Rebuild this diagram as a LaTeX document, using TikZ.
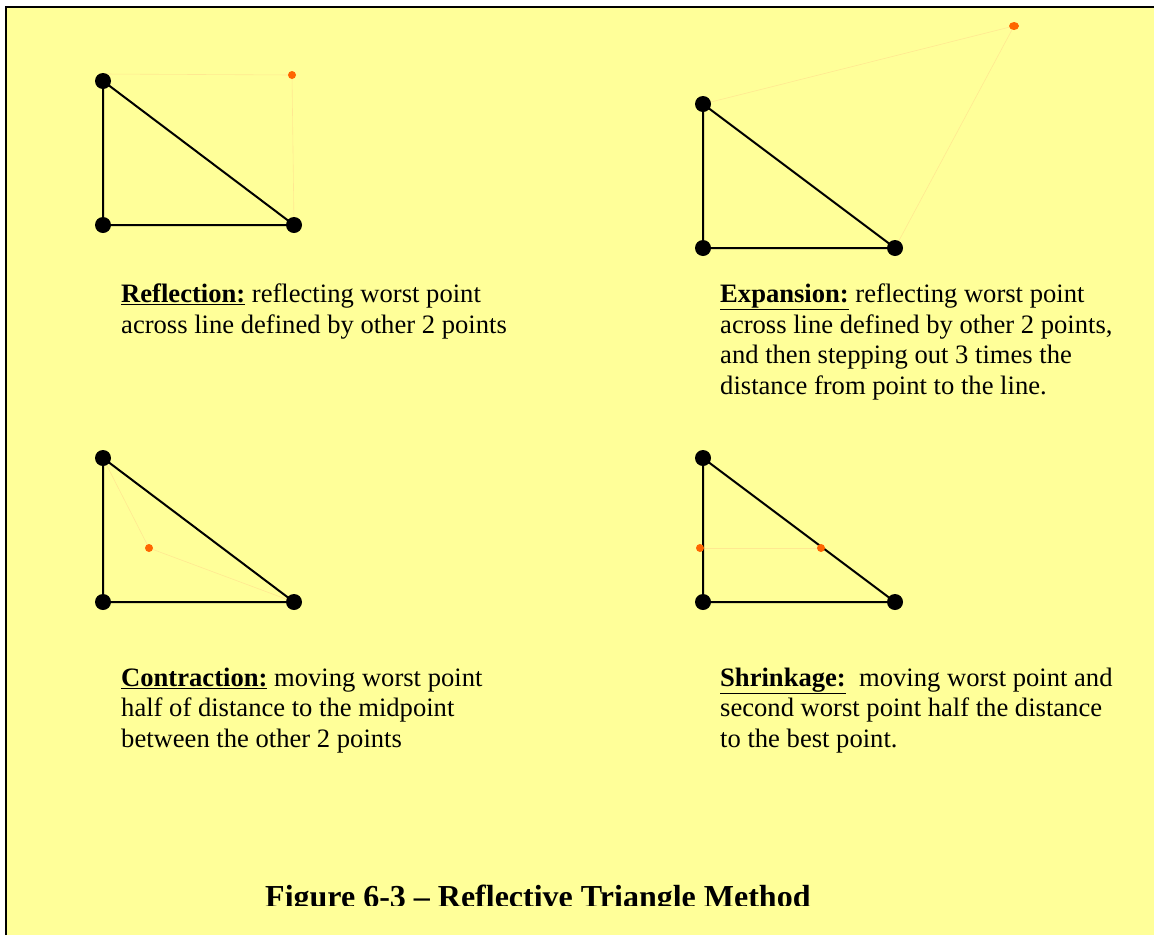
\documentclass[tikz,border=0pt]{standalone}
\usepackage{fontspec}
\usetikzlibrary{shapes.geometric}
\setmainfont{Liberation Serif}
\definecolor{bgyellow}{RGB}{255,255,153}
\definecolor{dotorange}{RGB}{255,102,0}
\definecolor{faint}{RGB}{255,232,145}
\newcommand{\ulbold}[1]{\underline{\textbf{#1}}}
\begin{document}
\begin{tikzpicture}[x=1pt,y=-1pt,
  vtx/.style={circle,fill=black,inner sep=0pt,minimum size=16pt},
  odot/.style={circle,fill=dotorange,inner sep=0pt,minimum size=8pt},
  edge/.style={line width=2pt,black},
  ghost/.style={line width=0.6pt,faint},
  txt/.style={anchor=base west,inner sep=0pt,font=\fontsize{26.6}{30.7}\selectfont},
  ttl/.style={anchor=base west,inner sep=0pt,font=\fontsize{32}{36}\selectfont\bfseries}]
\useasboundingbox (0,0) rectangle (1154,935);
\fill[white] (0,0) rectangle (1154,935);
\fill[bgyellow] (6,7) rectangle (1154,935);
\draw[line width=2pt] (6,935) -- (6,7) -- (1154,7);
% Triangle 1: reflection
\coordinate (a1) at (103,81);
\coordinate (b1) at (103,225);
\coordinate (c1) at (294,225);
\coordinate (r1) at (292,75);
\coordinate (g1) at (103,74);
\draw[ghost] (g1) -- (r1) -- (c1);
\draw[edge] (a1) -- (b1) -- (c1) -- cycle;
\node[vtx] (A1) at (a1) {};
\node[vtx] (B1) at (b1) {};
\node[vtx] (C1) at (c1) {};
\node[odot] (R1) at (r1) {};
% Triangle 2: expansion
\coordinate (a2) at (703,104);
\coordinate (b2) at (703,248);
\coordinate (c2) at (895,248);
\coordinate (r2) at (1014,26);
\draw[ghost] (a2) -- (r2) -- (c2);
\draw[edge] (a2) -- (b2) -- (c2) -- cycle;
\node[vtx] (A2) at (a2) {};
\node[vtx] (B2) at (b2) {};
\node[vtx] (C2) at (c2) {};
\node[odot,ellipse,minimum width=10pt,minimum height=8pt] (R2) at (r2) {};
% Triangle 3: contraction
\coordinate (a3) at (103,458);
\coordinate (b3) at (103,602);
\coordinate (c3) at (294,602);
\coordinate (r3) at (149,548);
\draw[ghost] (a3) -- (r3) -- (c3);
\draw[edge] (a3) -- (b3) -- (c3) -- cycle;
\node[vtx] (A3) at (a3) {};
\node[vtx] (B3) at (b3) {};
\node[vtx] (C3) at (c3) {};
\node[odot] (R3) at (r3) {};
% Triangle 4: shrinkage
\coordinate (a4) at (703,458);
\coordinate (b4) at (703,602);
\coordinate (c4) at (895,602);
\coordinate (p4) at (700,548);
\coordinate (q4) at (821,548);
\draw[ghost] (p4) -- (q4);
\draw[edge] (a4) -- (b4) -- (c4) -- cycle;
\node[vtx] (A4) at (a4) {};
\node[vtx] (B4) at (b4) {};
\node[vtx] (C4) at (c4) {};
\node[odot] (P4) at (p4) {};
\node[odot] (Q4) at (q4) {};
% Texts
\node[txt] (t1a) at (121,302) {\ulbold{Reflection:} reflecting worst point};
\node[txt] (t1b) at (121,333) {across line defined by other 2 points};
\node[txt] (t2a) at (720,302) {\ulbold{Expansion:} reflecting worst point};
\node[txt] (t2b) at (720,333) {across line defined by other 2 points,};
\node[txt] (t2c) at (720,363) {and then stepping out 3 times the};
\node[txt] (t2d) at (720,394) {distance from point to the line.};
\node[txt] (t3a) at (121,686) {\ulbold{Contraction:} moving worst point};
\node[txt] (t3b) at (121,716) {half of distance to the midpoint};
\node[txt] (t3c) at (121,747) {between the other 2 points};
\node[txt] (t4a) at (720,686) {\ulbold{Shrinkage:}\ \ moving worst point and};
\node[txt] (t4b) at (720,716) {second worst point half the distance};
\node[txt] (t4c) at (720,747) {to the best point.};
\begin{scope}
\clip (0,0) rectangle (1154,905);
\node[ttl] (title) at (265,907) {Figure 6-3 – Reflective Triangle Method};
\end{scope}
\end{tikzpicture}
\end{document}
